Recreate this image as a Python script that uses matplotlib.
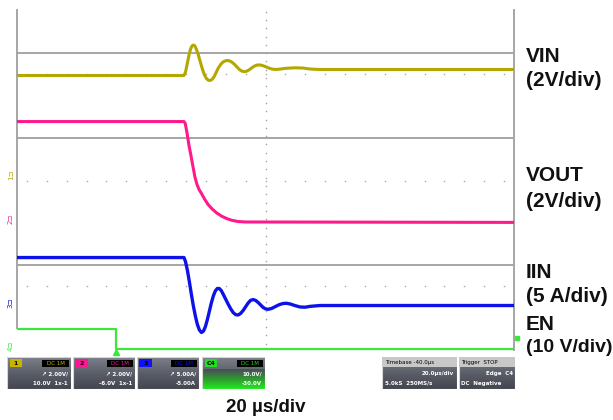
import numpy as np
import matplotlib.pyplot as plt
from matplotlib.patches import Rectangle
from matplotlib.colors import LinearSegmentedColormap

# time axis in microseconds, 20 us/div, 10 divisions
T_MIN, T_MAX = -100, 100

# VIN (V), 2 V/div
vin_t = [-100, -32.8, -32.2, -31.5, -30.8, -30.2, -29.6, -29.0, -28.4, -27.8, -27.0,
         -26.2, -25.4, -24.6, -23.8, -23.0, -22.2, -21.4, -20.6, -19.8, -19.0, -18.0,
         -17.0, -16.0, -15.2, -14.4, -13.5, -12.5, -11.5, -10.5, -9.5, -8.5, -7.5,
         -6.5, -5.5, -4.5, -3.5, -2.5, -1.5, -0.5, 0.5, 1.8, 3.0, 4.2, 6.0, 7.8,
         10.0, 12.0, 15.0, 18.0, 22.0, 100]
vin_v = [4.94, 4.94, 5.10, 5.50, 5.92, 6.20, 6.36, 6.41, 6.36, 6.20, 5.92,
         5.58, 5.25, 4.98, 4.80, 4.71, 4.70, 4.76, 4.90, 5.10, 5.30, 5.48,
         5.60, 5.65, 5.66, 5.64, 5.58, 5.48, 5.35, 5.23, 5.15, 5.12, 5.15,
         5.22, 5.31, 5.39, 5.44, 5.45, 5.43, 5.39, 5.34, 5.28, 5.24, 5.23, 5.25, 5.28,
         5.30, 5.31, 5.30, 5.25, 5.23, 5.23]

# VOUT (V), 2 V/div
vout_t = [-100, -32.8, -32.3, -31.6, -30.8, -30.0, -29.2, -28.4, -27.6, -26.8, -25.7,
          -24.5, -23.1, -21.5, -19.6, -17.5, -15.5, -13.5, -11.0, -8.0, 100]
vout_v = [4.84, 4.84, 4.75, 4.30, 3.70, 3.20, 2.68, 2.17, 1.82, 1.58, 1.36,
          1.10, 0.84, 0.63, 0.43, 0.27, 0.16, 0.08, 0.02, 0.0, -0.02]

# IIN (A), 5 A/div
iin_t = [-100, -32.8, -32.2, -31.4, -30.6, -29.8, -29.0, -28.2, -27.4, -26.6, -25.8,
         -25.0, -24.2, -23.4, -22.6, -21.8, -21.0, -20.2, -19.4, -18.6, -17.8, -17.0,
         -16.0, -15.0, -14.0, -13.0, -12.0, -11.0, -10.0, -9.0, -8.0, -7.0, -6.0,
         -5.0, -4.0, -3.0, -2.0, -1.0, 0.0, 1.0, 2.5, 4.0, 5.5, 7.0, 8.5, 10.0,
         12.0, 14.0, 16.0, 18.0, 22.0, 100]
iin_a = [5.78, 5.78, 5.30, 4.20, 2.80, 1.30, -0.10, -1.30, -2.30, -2.95, -3.25,
         -3.10, -2.55, -1.70, -0.70, 0.30, 1.15, 1.75, 2.05, 2.05, 1.80, 1.35,
         0.75, 0.15, -0.40, -0.85, -1.10, -1.14, -0.95, -0.60, -0.15, 0.30, 0.62,
         0.72, 0.62, 0.38, 0.08, -0.22, -0.40, -0.46, -0.35, -0.12, 0.10, 0.24, 0.27, 0.18,
         -0.02, -0.18, -0.20, -0.10, 0.0, 0.0]

# EN (V), 10 V/div
en_t = [-100, -60.2, -60.2, 100]
en_v = [4.82, 4.82, 0.0, 0.0]

# channel settings: units per div, ground position in screen divs
channels = {
    'VIN':  dict(scale=2.0, ground=4.193, color='#b3a800', lw=2.2),
    'VOUT': dict(scale=2.0, ground=3.133, color='#ff1a8c', lw=2.2),
    'IIN':  dict(scale=5.0, ground=1.120, color='#0d12e8', lw=2.4),
    'EN':   dict(scale=10.0, ground=0.072, color='#3ae83a', lw=1.6),
}

W, H = 613, 420
PX_DIV = 41.5          # vertical pixels per division
TOP = 10
BOTTOM = 352
GRAY = '#a6a6a6'


def py(px):
    # pixel row -> screen division
    return (BOTTOM - px) / PX_DIV


fig = plt.figure(figsize=(W / 100, H / 100), dpi=100)
fig.patch.set_facecolor('white')
ax = fig.add_axes([17 / W, 1 - BOTTOM / H, 497 / W, (BOTTOM - TOP) / H])
ax.set_xlim(T_MIN, T_MAX)
ax.set_ylim(0, py(TOP))
ax.axis('off')

# frame and separators
ax.plot([T_MIN, T_MIN], [py(328), py(TOP)], color=GRAY, lw=1.4, clip_on=False)
ax.plot([T_MAX, T_MAX], [py(350), py(TOP)], color=GRAY, lw=1.4, clip_on=False)
for row in [53, 138, 265]:
    ax.plot([T_MIN, T_MAX], [py(row)] * 2, color=GRAY, lw=1.4, clip_on=False)

# dotted centre graticule
dot_y = np.arange(0.2, py(TOP), 0.2)
ax.plot(np.zeros_like(dot_y), dot_y, ls='none', marker='s', ms=1.0, color='#a0a0a0', mew=0)
dot_x = np.arange(-96, 100, 8)
for row in [73.5, 181, 286]:
    ax.plot(dot_x, np.full_like(dot_x, py(row), dtype=float), ls='none', marker='s',
            ms=1.0, color='#a8a8a8', mew=0)

# traces
for name, t, v in [('VIN', vin_t, vin_v), ('VOUT', vout_t, vout_v),
                   ('IIN', iin_t, iin_a), ('EN', en_t, en_v)]:
    ch = channels[name]
    y = ch['ground'] + np.array(v) / ch['scale']
    ax.plot(t, y, color=ch['color'], lw=ch['lw'], solid_joinstyle='round', zorder=3)

# trigger marker and EN level marker
green = channels['EN']['color']
ax.plot([-60.2], [0.0], marker='^', ms=4, color=green, clip_on=False, zorder=4)
ax.plot([101.2], [py(338)], marker='s', ms=2.5, color=green, clip_on=False, zorder=4)

# ground markers on the left edge
for num, name in zip(['1', '2', '3', '4'], ['VIN', 'VOUT', 'IIN', 'EN']):
    ch = channels[name]
    ax.text(-102.5, ch['ground'] + 0.07, num + '\u2290', rotation=90, color=ch['color'],
            fontsize=5, ha='center', va='center', clip_on=False)

# right-hand labels
lab = dict(fontweight='bold', family='Liberation Sans', color='#111111',
           va='center', ha='left')
for text, row, size in [('VIN', 56, 15), ('(2V/div)', 81, 15), ('VOUT', 175, 15),
                        ('(2V/div)', 201, 15), ('IIN', 272, 15), ('(5 A/div)', 296, 15),
                        ('EN', 324, 15), ('(10 V/div)', 348, 14)]:
    fig.text(526 / W, 1 - row / H, text, fontsize=size, **lab)

fig.text(266 / W, 1 - 408 / H, '20 \u00b5s/div', fontsize=13.5, fontweight='bold',
         family='Liberation Sans', color='#111111', ha='center', va='center')

# info boxes along the bottom
panel = LinearSegmentedColormap.from_list('panel', ['#7d8089', '#5a5e68', '#44474f'])
glow = LinearSegmentedColormap.from_list('glow', ['#4a4e57', '#2f9a2f', '#22e622'])
grad = np.linspace(0, 1, 32).reshape(-1, 1)
box_info = [
    (7, 64, '1', '#c8b400', ['\u2197 2.00V/', '10.0V  1x-1']),
    (73, 62, '2', '#ff1493', ['\u2197 2.00V/', '-6.0V  1x-1']),
    (137, 62, '3', '#1010ff', ['\u2197 5.00A/', '-5.00A']),
    (202, 63, 'C4', '#22dd22', ['10.0V/', '-30.0V']),
    (382, 75, None, None, ['Timebase -40.0\u00b5s', '20.0\u00b5s/div', '5.0kS  250MS/s']),
    (459, 56, None, None, ['Trigger  STOP', 'Edge  C4', 'DC  Negative']),
]
for x0, w, tag, col, lines in box_info:
    bax = fig.add_axes([x0 / W, 1 - 389 / H, w / W, 32 / H])
    bax.set_xlim(0, 1)
    bax.set_ylim(0, 1)
    bax.axis('off')
    bax.imshow(grad, extent=[0, 1, 0, 1], aspect='auto', cmap=panel, origin='upper')
    if tag == 'C4':
        bax.imshow(grad[:20], extent=[0, 1, 0, 0.6], aspect='auto', cmap=glow,
                   origin='upper')
    bax.add_patch(Rectangle((0, 0), 1, 1, fill=False, ec='#d6d6d6', lw=0.8))
    if tag is not None:
        bax.add_patch(Rectangle((0.04, 0.68), 0.2, 0.26, fc=col, ec='none'))
        bax.text(0.14, 0.81, tag, fontsize=4.5, color='black', ha='center', va='center',
                 fontweight='bold')
        bax.add_patch(Rectangle((0.55, 0.7), 0.42, 0.22, fc='black', ec='none'))
        bax.text(0.76, 0.81, 'DC 1M', fontsize=4, color=col, ha='center', va='center')
        for i, s in enumerate(lines):
            bax.text(0.95, 0.48 - i * 0.3, s, fontsize=4, color='white', ha='right',
                     va='center', fontweight='bold')
    else:
        bax.add_patch(Rectangle((0, 0.68), 1, 0.32, fc='#c8c8c8', ec='none'))
        bax.text(0.04, 0.84, lines[0], fontsize=4, color='black', ha='left', va='center')
        bax.text(0.96, 0.48, lines[1], fontsize=4, color='white', ha='right', va='center',
                 fontweight='bold')
        bax.text(0.04, 0.18, lines[2], fontsize=4, color='white', ha='left', va='center',
                 fontweight='bold')

fig.savefig('out.png', dpi=100)
